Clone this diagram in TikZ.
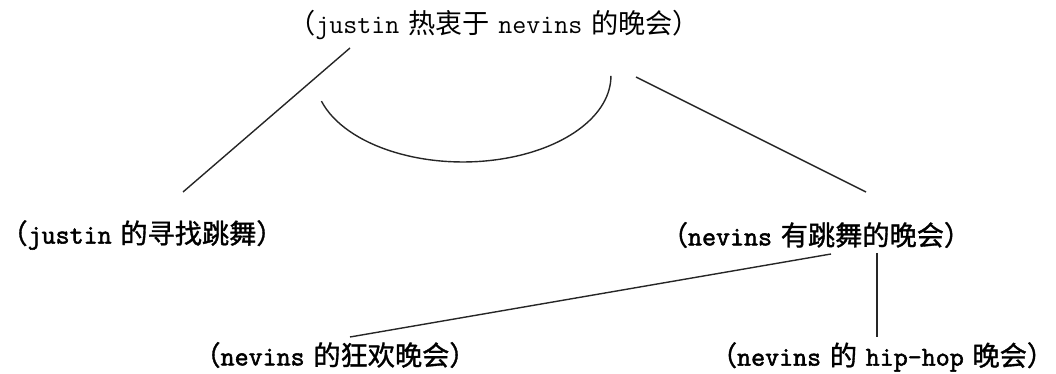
\documentclass[tikz,border=0pt]{standalone}
\usepackage{fontspec}
\newfontfamily\cjk{Noto Sans CJK SC}
\newfontfamily\cjkb{Noto Sans CJK SC}[FakeBold=1.2]
\newfontfamily\latr{Latin Modern Mono}
\newfontfamily\latb{Latin Modern Mono}[FakeBold=2]
\newcommand\zh[1]{{\cjk #1}}
\newcommand\zhb[1]{{\cjkb #1}}
\newcommand\gap{\kern0.32em}
\begin{document}
\begin{tikzpicture}[x=0.5pt,y=-0.5pt,
  lbl/.style={inner sep=0pt,anchor=center,font=\fontsize{13.6}{15}\selectfont},
  conn/.style={line width=0.7pt,black!85}]
\useasboundingbox (0,0) rectangle (1056,374);
\node[lbl] (top) at (494,25) {\latr\zh{（}justin\gap\zh{热衷于}\gap nevins\gap\zh{的晚会）}};
\node[lbl] (jd) at (142,235) {\latb\zhb{（}justin\gap\zhb{的寻找跳舞）}};
\node[lbl] (nd) at (816,235) {\latb\zhb{（}nevins\gap\zhb{有跳舞的晚会）}};
\node[lbl] (nk) at (335,355) {\latb\zhb{（}nevins\gap\zhb{的狂欢晚会）}};
\node[lbl] (nh) at (882,357) {\latb\zhb{（}nevins\gap\zhb{的}\gap hip-hop\gap\zhb{晚会）}};
\draw[conn] ([shift={(-144,23)}]top.center) -- ([shift={(41,-43)}]jd.center);
\draw[conn] ([shift={(142,52)}]top.center) -- ([shift={(50,-43)}]nd.center);
\draw[conn] ([shift={(15,19)}]nd.center) -- ([shift={(15,-18)}]nk.center);
\draw[conn] ([shift={(61,18)}]nd.center) -- ([shift={(-5,-20)}]nh.center);
\draw[conn] ([shift={(-172.6,76.1)}]top.center) arc[start angle=197,end angle=360,x radius=74pt,y radius=43pt];
\end{tikzpicture}
\end{document}
